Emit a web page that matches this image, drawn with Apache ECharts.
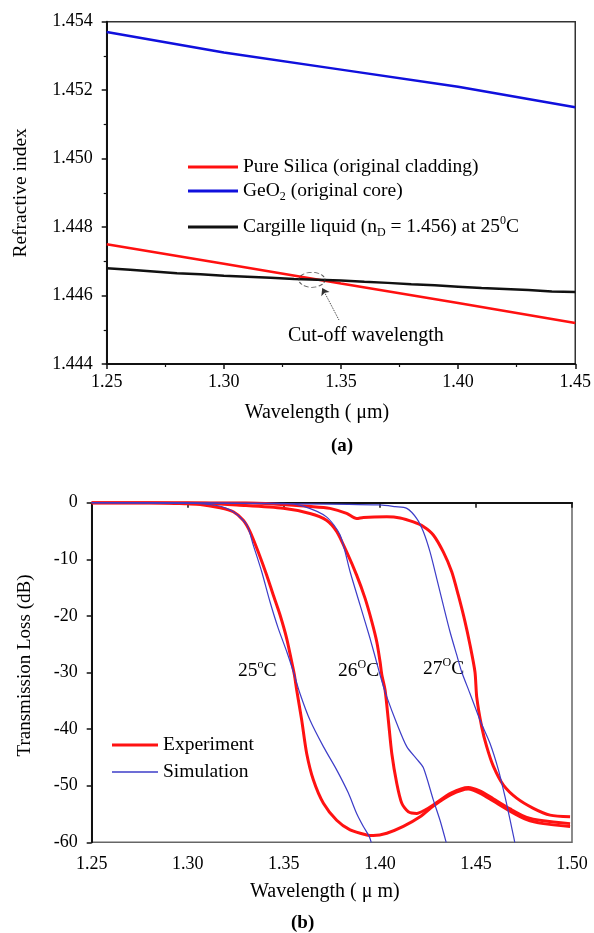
<!DOCTYPE html>
<html><head><meta charset="utf-8">
<script src="https://cdn.jsdelivr.net/npm/echarts@6/dist/echarts.min.js"></script>
<style>html,body{margin:0;padding:0;background:#fff}#c{width:594px;height:933px}</style>
</head><body><div id="c"></div>
<script>
// ---------- Panel (a) data ----------
const wlA = [1.25, 1.30, 1.35, 1.40, 1.45];
const silica = [1.4475, 1.44693, 1.44635, 1.44578, 1.4452];
const geo2 = [1.4537, 1.4531, 1.4526, 1.4521, 1.4515];
const cargilleWl = [1.25,1.26,1.27,1.28,1.29,1.30,1.31,1.32,1.33,1.34,1.35,1.36,1.37,1.38,1.39,1.40,1.41,1.42,1.43,1.44,1.45];
const cargille = [1.44680,1.44675,1.44670,1.44665,1.44662,1.44658,1.44655,1.44652,1.44648,1.44646,1.44644,1.44640,1.44637,1.44633,1.44630,1.44626,1.44622,1.44619,1.44616,1.44612,1.44610];
const cutoffPoint = [1.3376, 1.44646];
const arrowFrom = [1.3491, 1.44529];
const arrowTo = [1.3420, 1.44622];
const namesA = ['Pure Silica (original cladding)', 'GeO2 (original core)', 'Cargille liquid (nD = 1.456) at 25C'];

// ---------- Panel (b) data: [wavelength (um), loss (dB)] ----------
const exp25 = [[1.25,0],[1.28,0],[1.30,-0.2],[1.3065,-0.3],[1.3168,-0.9],[1.3237,-1.6],[1.3289,-3.1],[1.3324,-5.1],[1.3367,-8.7],[1.3411,-12.8],[1.3445,-16.3],[1.348,-19.8],[1.3515,-24],[1.3541,-28.1],[1.3555,-30.4],[1.3567,-33.1],[1.3593,-38.4],[1.3619,-44.3],[1.3654,-49],[1.3706,-53.1],[1.3775,-56.1],[1.3845,-57.8],[1.3932,-58.7],[1.3966,-58.8],[1.4036,-58.4],[1.4122,-57.2],[1.4209,-55.5],[1.4278,-53.6],[1.437,-51.6],[1.446,-50.6],[1.452,-51.3],[1.459,-52.7],[1.4678,-54.5],[1.4764,-56],[1.4851,-56.7],[1.499,-57.2]];
const exp26 = [[1.25,0],[1.30,0],[1.33,-0.5],[1.3497,-1.0],[1.3636,-1.9],[1.3722,-3.1],[1.3775,-5.1],[1.3827,-8.7],[1.3879,-12.8],[1.3923,-16.9],[1.3958,-21],[1.3984,-24.6],[1.4001,-28.1],[1.401,-30.4],[1.4027,-33.1],[1.4044,-38.4],[1.4062,-44.3],[1.4088,-49.6],[1.4114,-53.1],[1.4148,-54.6],[1.4192,-54.9],[1.4235,-54.3],[1.4278,-53.4],[1.437,-51.3],[1.446,-50.3],[1.452,-50.9],[1.459,-52.3],[1.4678,-54.1],[1.4764,-55.6],[1.4851,-56.2],[1.499,-56.7]];
const exp27 = [[1.25,0],[1.33,0],[1.3653,-0.7],[1.374,-1.0],[1.3827,-1.9],[1.3879,-2.8],[1.3914,-2.6],[1.4036,-2.5],[1.4105,-2.7],[1.4174,-3.4],[1.4226,-4.2],[1.4278,-5.7],[1.433,-8.7],[1.4374,-12.2],[1.4408,-16.3],[1.4443,-21],[1.4469,-25.1],[1.4495,-29.9],[1.4504,-34.3],[1.453,-39.6],[1.4556,-43.1],[1.4591,-46.6],[1.4643,-49.9],[1.4712,-52.2],[1.4799,-54],[1.4886,-55.2],[1.499,-55.5]];
const sim25 = [[1.25,0],[1.30,-0.1],[1.315,-0.5],[1.3237,-1.6],[1.3307,-3.9],[1.3341,-7.5],[1.3385,-12.2],[1.3428,-17.5],[1.3471,-22.2],[1.3515,-26.3],[1.355,-29.9],[1.3584,-33.7],[1.3636,-38.4],[1.3706,-43.1],[1.3775,-47.2],[1.3836,-51.3],[1.3879,-54.9],[1.3914,-57.2],[1.3945,-59],[1.3955,-60]];
const sim26 = [[1.25,0],[1.35,-0.1],[1.36,-0.6],[1.3722,-2.5],[1.3793,-5.7],[1.3845,-12.2],[1.3897,-18.1],[1.3949,-24],[1.3992,-29.3],[1.401,-31.5],[1.4036,-34.3],[1.4088,-39],[1.414,-43.1],[1.4192,-45.3],[1.4226,-46.8],[1.4278,-52.5],[1.4313,-56.1],[1.4345,-60]];
const sim27 = [[1.25,0],[1.36,-0.2],[1.40,-0.4],[1.408,-0.7],[1.414,-1.0],[1.4192,-2.8],[1.4226,-5.1],[1.4261,-8.7],[1.4296,-13.4],[1.433,-18.1],[1.4365,-22.8],[1.44,-26.9],[1.4426,-29.9],[1.4469,-33.7],[1.4521,-38.4],[1.4573,-42.5],[1.4617,-47.2],[1.4651,-51.9],[1.4678,-56.1],[1.4698,-59.3],[1.4702,-60]];

const FONT = 'Liberation Serif';
const zipA = (xs, ys) => xs.map((x, i) => [x, ys[i]]);

const richBase = {
  n: {fontFamily: FONT, fontSize: 19.5, color: '#000', lineHeight: 24},
  sub: {fontFamily: FONT, fontSize: 12, color: '#000', verticalAlign: 'bottom', lineHeight: 24, padding: [10, 0, 0, 0]},
  sup: {fontFamily: FONT, fontSize: 12, color: '#000', verticalAlign: 'top', lineHeight: 24, padding: [0, 0, 7, 0]}
};
const legendRich = {
  [namesA[0]]: '{n|Pure Silica (original cladding)}',
  [namesA[1]]: '{n|GeO}{sub|2}{n| (original core)}',
  [namesA[2]]: '{n|Cargille liquid (n}{sub|D}{n| = 1.456) at 25}{sup|0}{n|C}',
  'Experiment': '{n|Experiment}',
  'Simulation': '{n|Simulation}'
};
function mkLegend(name, left, top, w, h) {
  return {
    data: [{name: name, icon: 'rect'}], left: left, top: top, padding: 0,
    itemWidth: w, itemHeight: h, itemGap: 0, selectedMode: false,
    formatter: n => legendRich[n],
    textStyle: {fontFamily: FONT, fontSize: 19.5, color: '#000', lineHeight: 24, rich: richBase, padding: [0, 0, 0, 0]}
  };
}

const axisCommon = {
  axisLine: {show: true, lineStyle: {color: '#111', width: 2}},
  axisTick: {show: true, inside: false, length: 5, lineStyle: {color: '#111', width: 1.5}},
  splitLine: {show: false},
  axisLabel: {fontFamily: FONT, fontSize: 18, color: '#000'}
};
const lineA = {type: 'line', showSymbol: false, smooth: false};
const lineB = {type: 'line', showSymbol: false, smooth: 0.25};

const chart = echarts.init(document.getElementById('c'), null, {renderer: 'canvas'});
chart.setOption({
  backgroundColor: '#fff',
  animation: false,
  grid: [
    {left: 106.7, top: 21.7, width: 471, height: 342.3, show: true, borderColor: '#333', borderWidth: 1.5, backgroundColor: 'transparent'},
    {left: 91.7, top: 502.7, width: 480.3, height: 339.6, show: true, borderColor: '#666', borderWidth: 1.5, backgroundColor: 'transparent'}
  ],
  xAxis: [
    Object.assign({}, axisCommon, {
      gridIndex: 0, type: 'value', min: 1.25, max: 1.45, interval: 0.05,
      name: 'Wavelength ( \u03bcm)', nameLocation: 'middle', nameGap: 39,
      nameTextStyle: {fontFamily: FONT, fontSize: 20, color: '#000', padding: [0, 48, 0, 0]},
      minorTick: {show: true, splitNumber: 2, length: 3, lineStyle: {color: '#111', width: 1.2}},
      axisLabel: Object.assign({}, axisCommon.axisLabel, {margin: 9, formatter: v => v.toFixed(2)})
    }),
    Object.assign({}, axisCommon, {
      gridIndex: 1, type: 'value', min: 1.25, max: 1.50, interval: 0.05,
      name: 'Wavelength ( \u03bc m)', nameLocation: 'middle', nameGap: 39,
      nameTextStyle: {fontFamily: FONT, fontSize: 20, color: '#000', padding: [0, 14, 0, 0]},
      axisLabel: Object.assign({}, axisCommon.axisLabel, {margin: 13, formatter: v => v.toFixed(2)})
    })
  ],
  yAxis: [
    Object.assign({}, axisCommon, {
      gridIndex: 0, type: 'value', min: 1.444, max: 1.454, interval: 0.002,
      name: 'Refractive index', nameLocation: 'middle', nameGap: 76,
      nameTextStyle: {fontFamily: FONT, fontSize: 19.5, color: '#000'},
      minorTick: {show: true, splitNumber: 2, length: 3, lineStyle: {color: '#111', width: 1.2}},
      axisLabel: Object.assign({}, axisCommon.axisLabel, {margin: 14, formatter: v => v.toFixed(3)})
    }),
    Object.assign({}, axisCommon, {
      gridIndex: 1, type: 'value', min: -60, max: 0, interval: 10,
      name: 'Transmission Loss (dB)', nameLocation: 'middle', nameGap: 57,
      nameTextStyle: {fontFamily: FONT, fontSize: 19, color: '#000', padding: [0, 0, 0, 14]},
      axisLabel: Object.assign({}, axisCommon.axisLabel, {margin: 14})
    })
  ],
  legend: [
    mkLegend(namesA[0], 188, 155, 50, 3),
    mkLegend(namesA[1], 188, 179, 50, 3),
    mkLegend(namesA[2], 188, 215, 50, 3),
    mkLegend('Experiment', 112, 733, 46, 3),
    mkLegend('Simulation', 112, 760, 46, 1.5)
  ],
  series: [
    Object.assign({}, lineA, {name: namesA[0], xAxisIndex: 0, yAxisIndex: 0, data: zipA(wlA, silica), color: '#ff1010', lineStyle: {width: 2.5, color: '#ff1010'}}),
    Object.assign({}, lineA, {name: namesA[1], xAxisIndex: 0, yAxisIndex: 0, data: zipA(wlA, geo2), color: '#1010dd', lineStyle: {width: 2.5, color: '#1010dd'}}),
    Object.assign({}, lineA, {name: namesA[2], xAxisIndex: 0, yAxisIndex: 0, data: zipA(cargilleWl, cargille), color: '#111', lineStyle: {width: 2.5, color: '#111'}}),
    {name: 'cutoff', type: 'scatter', xAxisIndex: 0, yAxisIndex: 0, data: [cutoffPoint], symbol: 'circle', symbolSize: [26, 15], z: 5, silent: true,
     itemStyle: {color: 'rgba(0,0,0,0)', borderColor: '#333', borderWidth: 1, borderType: 'dashed'},
     markLine: {silent: true, symbolSize: 7, lineStyle: {color: '#333', width: 1, type: 'dotted'}, label: {show: false},
       data: [[{coord: arrowFrom, symbol: 'none'}, {coord: arrowTo, symbol: 'arrow'}]]}},
    Object.assign({}, lineB, {name: 'Experiment', xAxisIndex: 1, yAxisIndex: 1, data: exp25, color: '#ff1212', lineStyle: {width: 3, color: '#ff1212'}, z: 2}),
    Object.assign({}, lineB, {name: 'Experiment', xAxisIndex: 1, yAxisIndex: 1, data: exp26, color: '#ff1212', lineStyle: {width: 3, color: '#ff1212'}, z: 2}),
    Object.assign({}, lineB, {name: 'Experiment', xAxisIndex: 1, yAxisIndex: 1, data: exp27, color: '#ff1212', lineStyle: {width: 3, color: '#ff1212'}, z: 2}),
    Object.assign({}, lineB, {name: 'Simulation', xAxisIndex: 1, yAxisIndex: 1, data: sim25, color: '#3c3cc8', lineStyle: {width: 1.2, color: '#3c3cc8'}, z: 3}),
    Object.assign({}, lineB, {name: 'Simulation', xAxisIndex: 1, yAxisIndex: 1, data: sim26, color: '#3c3cc8', lineStyle: {width: 1.2, color: '#3c3cc8'}, z: 3}),
    Object.assign({}, lineB, {name: 'Simulation', xAxisIndex: 1, yAxisIndex: 1, data: sim27, color: '#3c3cc8', lineStyle: {width: 1.2, color: '#3c3cc8'}, z: 3})
  ],
  graphic: [
    {type: 'text', left: 288, top: 326, style: {text: 'Cut-off wavelength', font: '20px "Liberation Serif"', fill: '#000'}},
    {type: 'text', left: 331, top: 437, style: {text: '(a)', font: 'bold 19px "Liberation Serif"', fill: '#000'}},
    {type: 'text', left: 291, top: 914, style: {text: '(b)', font: 'bold 19px "Liberation Serif"', fill: '#000'}},
    {type: 'text', left: 238, top: 659, style: {text: '{n|25}{sup|o}{n|C}', rich: richBase}},
    {type: 'text', left: 338, top: 659, style: {text: '{n|26}{sup|O}{n|C}', rich: richBase}},
    {type: 'text', left: 423, top: 657, style: {text: '{n|27}{sup|O}{n|C}', rich: richBase}}
  ]
});
</script></body></html>
